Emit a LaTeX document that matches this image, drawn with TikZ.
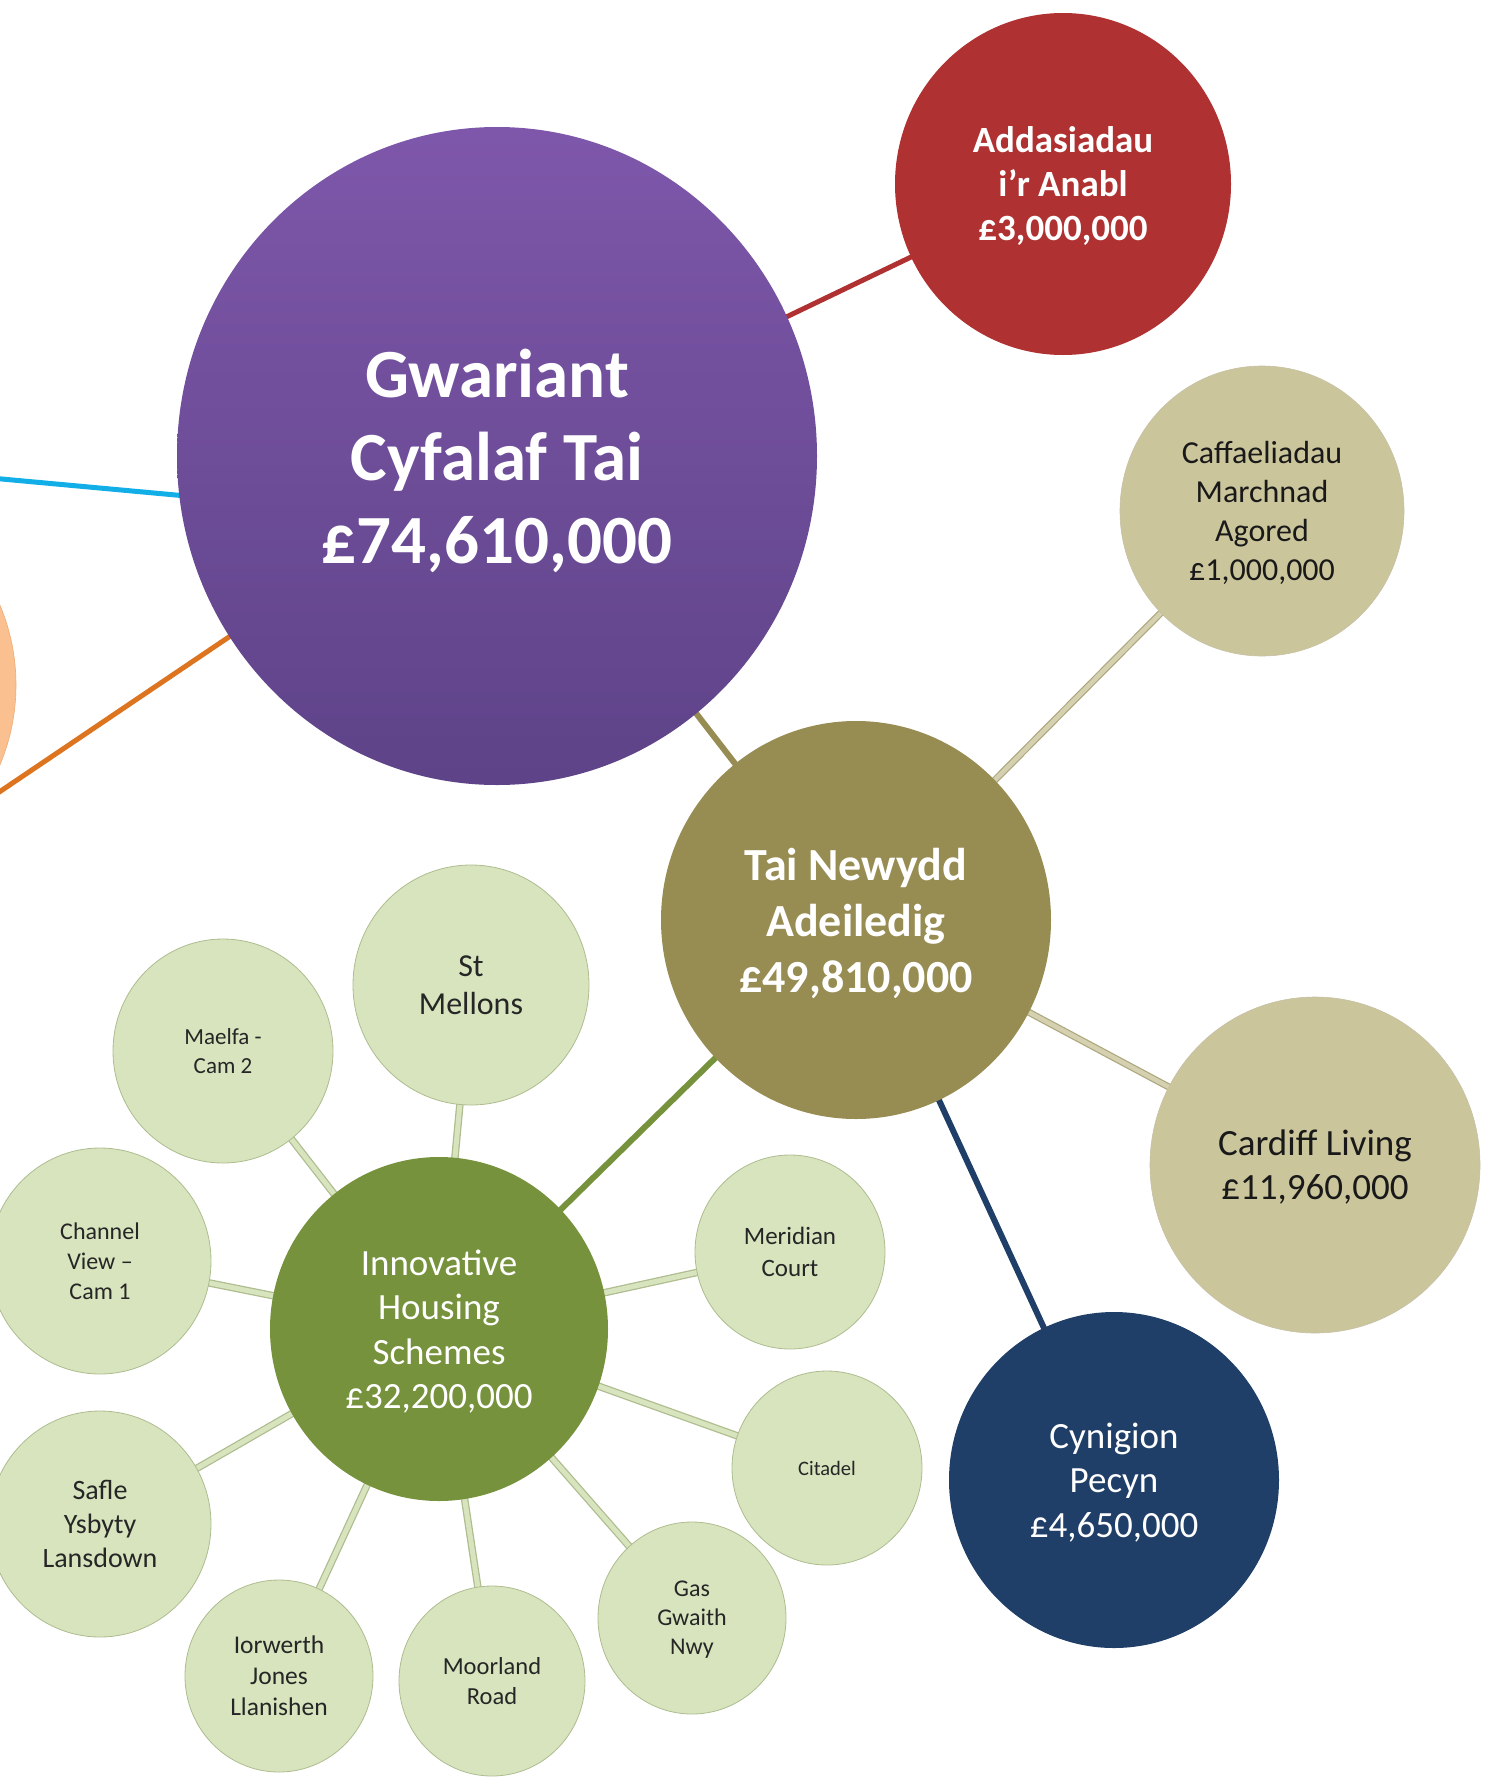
\documentclass[tikz,border=0pt]{standalone}
\usepackage{fontspec}
\setmainfont{Carlito}
\usetikzlibrary{shapes.geometric,backgrounds}
\definecolor{purpTop}{HTML}{7E57AA}
\definecolor{purpBot}{HTML}{5E4388}
\definecolor{redc}{HTML}{AF3131}
\definecolor{olive}{HTML}{978D53}
\definecolor{beige}{HTML}{CBC59C}
\definecolor{beigeEdge}{HTML}{ADA77E}
\definecolor{navy}{HTML}{1F3F68}
\definecolor{green}{HTML}{76923C}
\definecolor{pale}{HTML}{D7E4BD}
\definecolor{paleEdge}{HTML}{AEBC90}
\definecolor{orangeFill}{HTML}{FAC08F}
\definecolor{orangeLine}{HTML}{DD7420}
\definecolor{blueLine}{HTML}{12AEE8}
\newcommand\setfs[2]{\fontsize{#1}{#2}\selectfont}
\begin{document}
\begin{tikzpicture}[x=1pt,y=-1pt,
  bubble/.style={ellipse, inner sep=0pt, align=center},
  paleb/.style={bubble, fill=pale, draw=paleEdge, line width=0.8pt, text=black!85},
  beigeb/.style={bubble, fill=beige, draw=beigeEdge!70, line width=0.6pt, text=black!90},
  spoke/.style={line width=7.5pt, draw=paleEdge, line cap=butt, postaction={draw=pale, line width=5pt}},
  beigespoke/.style={line width=7pt, draw=beigeEdge, postaction={draw=beige!80!white, line width=4.6pt}},
  link/.style={line width=#1}]
\useasboundingbox (0,0) rectangle (1490,1780);
\clip (0,0) rectangle (1490,1780);
% off-canvas ends
\coordinate (blueA) at (-20,477);
\coordinate (blueB) at (230,500);
\coordinate (orgA) at (-60,832);
% nodes
\node[bubble, minimum width=396pt, minimum height=404pt, fill=orangeFill, draw=orangeLine!60, line width=0.6pt] (orangec) at (-182,685) {};
\node[bubble, text depth=0pt, minimum width=640pt, minimum height=658pt, top color=purpTop, bottom color=purpBot, text=white, font=\bfseries\setfs{69}{83}] (main) at (497,456) {Gwariant\\Cyfalaf Tai\\£74,610,000};
\node[bubble, text depth=-2pt, minimum width=336pt, minimum height=342pt, fill=redc, text=white, font=\bfseries\setfs{37}{44}] (addas) at (1063,184) {Addasiadau\\i’r Anabl\\£3,000,000};
\node[beigeb, text depth=-2pt, minimum width=284pt, minimum height=290pt, font=\setfs{32}{39}] (caff) at (1262,511) {Caffaeliadau\\Marchnad\\Agored\\£1,000,000};
\node[bubble, text depth=-1pt, minimum width=390pt, minimum height=398pt, fill=olive, text=white, font=\bfseries\setfs{46}{56}] (tai) at (856,920) {Tai Newydd\\Adeiledig\\£49,810,000};
\node[beigeb, text depth=-2pt, minimum width=330pt, minimum height=336pt, font=\setfs{37}{44}] (cardiff) at (1315,1165) {Cardiff Living\\£11,960,000};
\node[bubble, text depth=-2pt, minimum width=330pt, minimum height=336pt, fill=navy, text=white, font=\setfs{37}{44.5}] (cyn) at (1114,1480) {Cynigion\\Pecyn\\£4,650,000};
\node[bubble, text depth=-4pt, minimum width=338pt, minimum height=344pt, fill=green, text=white, font=\setfs{37}{44.5}] (inno) at (439,1329) {Innovative\\Housing\\Schemes\\£32,200,000};
\node[paleb, minimum width=236pt, minimum height=240pt, font=\setfs{32}{38}] (stm) at (471,985) {St\\Mellons};
\node[paleb, minimum width=220pt, minimum height=224pt, font=\setfs{23}{29}] (mae) at (223,1051) {Maelfa -\\Cam 2};
\node[paleb, text depth=-4pt, minimum width=222pt, minimum height=226pt, font=\setfs{24}{30}] (chan) at (100,1261) {Channel\\View –\\Cam 1};
\node[paleb, minimum width=190pt, minimum height=194pt, font=\setfs{25}{32}] (mer) at (790,1252) {Meridian\\Court};
\node[paleb, minimum width=190pt, minimum height=194pt, font=\setfs{20.5}{25}] (cit) at (827,1468) {Citadel};
\node[paleb, text depth=-2pt, minimum width=188pt, minimum height=192pt, font=\setfs{24}{29}] (gas) at (692,1618) {Gas\\Gwaith\\Nwy};
\node[paleb, text depth=-8pt, minimum width=186pt, minimum height=190pt, font=\setfs{24.5}{30}] (moor) at (492,1681) {Moorland\\Road};
\node[paleb, minimum width=188pt, minimum height=192pt, font=\setfs{25.5}{31}] (ior) at (279,1676) {Iorwerth\\Jones\\Llanishen};
\node[paleb, minimum width=222pt, minimum height=226pt, font=\setfs{28}{34}] (safle) at (100,1524) {Safle\\Ysbyty\\Lansdown};
% connectors
\begin{scope}[on background layer]
\draw[link=5pt, blueLine] (blueA) -- (blueB);
\draw[link=5pt, orangeLine] (orgA) -- (main.center);
\draw[link=5pt, redc] (main.center) -- (addas.center);
\draw[link=6pt, olive] (main.center) -- (tai.center);
\draw[beigespoke] (tai.center) -- (caff.center);
\draw[beigespoke] (tai.center) -- (cardiff.center);
\draw[link=6pt, navy] (tai.center) -- (cyn.center);
\draw[link=6pt, green] (tai.center) -- (inno.center);
\foreach \n in {stm,mae,chan,mer,cit,gas,moor,ior,safle}
  \draw[spoke] (inno.center) -- (\n.center);
\end{scope}
\end{tikzpicture}
\end{document}
